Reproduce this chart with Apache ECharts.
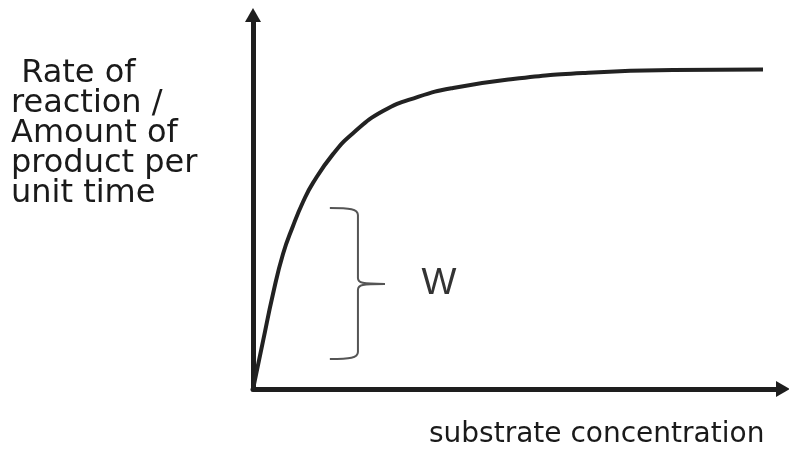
<!DOCTYPE html>
<html>
<head>
<meta charset="utf-8">
<style>
  html, body { margin: 0; padding: 0; background: #fff; }
  #chart { width: 789px; height: 451px; }
</style>
<script src="https://cdn.jsdelivr.net/npm/echarts@6/dist/echarts.min.js"></script>
</head>
<body>
<div id="chart"></div>
<script>
// substrate concentration (x) vs rate of reaction (y), arbitrary units 0-100
const concentration = [0, 1.89, 3.77, 5.66, 7.55, 9.43, 11.32, 15.09, 18.87, 24.53, 31.13, 37.74, 49.06, 62.26, 79.25, 96.23]
const rate = [0, 12.8, 25.4, 36.1, 43.6, 50.0, 55.1, 62.8, 68.4, 74.3, 78.1, 80.5, 82.9, 84.5, 85.3, 85.4]

// brace "W": left end, spine, tip (x) / top, middle, bottom (y)
const braceX = [14.5, 19.8, 24.9]
const braceY = [48.4, 28.1, 8.0]

const yLabel = ' Rate of\nreaction /\nAmount of\nproduct per\nunit time'
const xLabel = 'substrate concentration'
const braceLabel = 'W'

const chart = echarts.init(document.getElementById('chart'))

const axisLine = {
  show: true,
  symbol: ['none', 'triangle'],
  symbolSize: [16, 14],
  lineStyle: { color: '#1e1e1e', width: 5 }
}

const option = {
  animation: false,
  backgroundColor: '#fff',
  grid: { left: 253, right: 6, top: 15, bottom: 62 },
  xAxis: {
    type: 'value', min: 0, max: 100,
    axisLine: axisLine,
    axisTick: { show: false },
    axisLabel: { show: false },
    splitLine: { show: false }
  },
  yAxis: {
    type: 'value', min: 0, max: 100,
    axisLine: axisLine,
    axisTick: { show: false },
    axisLabel: { show: false },
    splitLine: { show: false }
  },
  graphic: [
    {
      type: 'text', x: 11, y: 59,
      style: { text: yLabel, font: '32px "DejaVu Sans"', lineHeight: 30, fill: '#1a1a1a', align: 'left', verticalAlign: 'top' }
    },
    {
      type: 'text', x: 429, y: 435,
      style: { text: xLabel, font: '28px "DejaVu Sans"', fill: '#1a1a1a', align: 'left', verticalAlign: 'middle' }
    },
    {
      type: 'text', x: 439, y: 284,
      style: { text: braceLabel, font: '37px "Liberation Sans"', fill: '#333', align: 'center', verticalAlign: 'middle' }
    }
  ],
  series: [
    {
      type: 'line',
      data: concentration.map((c, i) => [c, rate[i]]),
      smooth: 0.5,
      showSymbol: false,
      lineStyle: { color: '#222', width: 4 }
    },
    {
      type: 'custom',
      clip: false,
      data: [[braceX[0], braceX[1], braceX[2], braceY[0], braceY[1], braceY[2]]],
      encode: { x: [0, 1, 2], y: [3, 4, 5] },
      renderItem: function (params, api) {
        const l = api.coord([api.value(0), api.value(3)])
        const s = api.coord([api.value(1), api.value(4)])
        const t = api.coord([api.value(2), api.value(5)])
        const xL = l[0], xS = s[0], xT = t[0]
        const yTop = l[1], yMid = s[1], yBot = t[1]
        const d = [
          'M', xL, yTop, 'C', xS - 8, yTop, xS, yTop + 1, xS, yTop + 7,
          'L', xS, yMid - 6, 'C', xS, yMid - 1, xS + 4, yMid, xT, yMid,
          'M', xT, yMid, 'C', xS + 4, yMid, xS, yMid + 1, xS, yMid + 6,
          'L', xS, yBot - 7, 'C', xS, yBot - 1, xS - 8, yBot, xL, yBot
        ].join(' ')
        return {
          type: 'path',
          shape: { pathData: d },
          style: { stroke: '#555', lineWidth: 2, fill: 'none' }
        }
      }
    }
  ]
}

chart.setOption(option)
</script>
</body>
</html>
